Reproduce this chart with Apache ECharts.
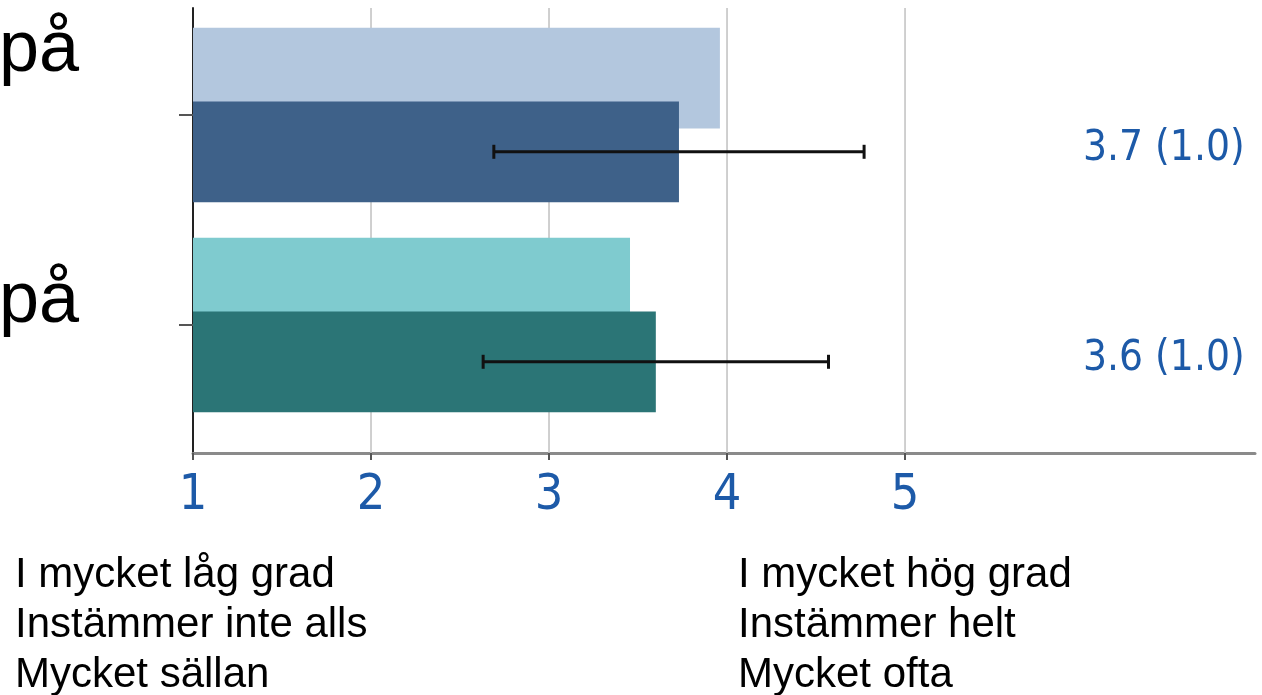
<!DOCTYPE html>
<html>
<head>
<meta charset="utf-8">
<script src="https://cdn.jsdelivr.net/npm/echarts@6/dist/echarts.min.js"></script>
<style>
html,body{margin:0;padding:0;background:#fff;}
#chart{width:1262px;height:695px;}
</style>
</head>
<body>
<div id="chart"></div>
<script>
// ---- data ----
const categories = ['på', 'på'];
const referenceValues = [3.96, 3.455];     // light (comparison) bars
const meanValues = [3.73, 3.6];            // dark bars
const sdValues = [1.04, 0.97];             // error bar half width
const lightColors = ['#b3c7de', '#7fcbcf'];
const darkColors = ['#3e6189', '#2b7576'];
const tickValues = [1, 2, 3, 4, 5];
const scaleLowText = ['I mycket låg grad', 'Instämmer inte alls', 'Mycket sällan'];
const scaleHighText = ['I mycket hög grad', 'Instämmer helt', 'Mycket ofta'];
const labelPosition = 6;   // x value where the "mean (sd)" text starts

const X_MIN = 1, X_MAX = 6.966;
const BAR_W = 0.48, BAR_GAP = -0.27;
const NARROW = '"Liberation Sans Narrow", "DejaVu Sans Condensed", sans-serif';
const SANS = '"Liberation Sans", Arial, sans-serif';

const chart = echarts.init(document.getElementById('chart'));

function darkCenter(api, idx) {
  const c = api.coord([X_MIN, idx]);
  const band = api.size([0, 1])[1];
  const bw = band * BAR_W, gap = bw * BAR_GAP;
  const total = 2 * bw + gap;
  return c[1] - total / 2 + bw + gap + bw / 2;
}

const option = {
  animation: false,
  backgroundColor: '#ffffff',
  grid: [
    { left: 193, right: 7, top: 10, height: 420 },
    { left: 193, right: 7, top: 8, height: 445 }
  ],
  xAxis: [
    { gridIndex: 0, type: 'value', min: X_MIN, max: X_MAX, show: false },
    {
      gridIndex: 1, type: 'value', min: X_MIN, max: X_MAX, interval: 1,
      axisLine: { show: true, lineStyle: { color: '#8a8a8a', width: 3 } },
      axisTick: { show: true, customValues: tickValues, length: 7, lineStyle: { color: '#555', width: 2 } },
      axisLabel: {
        show: true, customValues: tickValues, margin: 18,
        fontFamily: NARROW, fontSize: 50, color: '#1d5aa8'
      },
      splitLine: { show: false }
    }
  ],
  yAxis: [
    {
      gridIndex: 0, type: 'category', inverse: true, data: categories,
      axisLine: { show: false },
      axisTick: { show: true, alignWithLabel: true, length: 14, lineStyle: { color: '#555', width: 2 } },
      axisLabel: { show: false }
    },
    {
      gridIndex: 1, type: 'value', min: 0, max: 1,
      axisLine: { show: true, lineStyle: { color: '#222', width: 2 } },
      axisTick: { show: false }, axisLabel: { show: false }, splitLine: { show: false }
    }
  ],
  series: [
    {
      type: 'custom', xAxisIndex: 1, yAxisIndex: 1, z: 1, silent: true,
      data: tickValues.slice(1),
      renderItem: function (params, api) {
        const v = api.value(0);
        const p0 = api.coord([v, 0]);
        const p1 = api.coord([v, 1]);
        return { type: 'line', shape: { x1: p0[0], y1: p0[1], x2: p1[0], y2: p1[1] },
                 style: { stroke: '#c4c4c4', lineWidth: 1.6 } };
      }
    },
    {
      type: 'bar', xAxisIndex: 0, yAxisIndex: 0, z: 2,
      barWidth: (BAR_W * 100) + '%', barGap: (BAR_GAP * 100) + '%',
      data: referenceValues.map((v, i) => ({ value: v, itemStyle: { color: lightColors[i] } }))
    },
    {
      type: 'bar', xAxisIndex: 0, yAxisIndex: 0, z: 2,
      barWidth: (BAR_W * 100) + '%', barGap: (BAR_GAP * 100) + '%',
      data: meanValues.map((v, i) => ({ value: v, itemStyle: { color: darkColors[i] } }))
    },
    {
      type: 'custom', xAxisIndex: 0, yAxisIndex: 0, z: 5, silent: true,
      data: meanValues.map((m, i) => [m, sdValues[i], i]),
      renderItem: function (params, api) {
        const m = api.value(0), sd = api.value(1), idx = api.value(2);
        const y = darkCenter(api, idx);
        const xl = api.coord([m - sd, idx])[0];
        const xr = api.coord([m + sd, idx])[0];
        const xt = api.coord([labelPosition, idx])[0];
        const cap = 7;
        const st = { stroke: '#111', lineWidth: 3 };
        return {
          type: 'group',
          children: [
            { type: 'line', shape: { x1: xl, y1: y, x2: xr, y2: y }, style: st },
            { type: 'line', shape: { x1: xl, y1: y - cap, x2: xl, y2: y + cap }, style: st },
            { type: 'line', shape: { x1: xr, y1: y - cap, x2: xr, y2: y + cap }, style: st },
            { type: 'text', x: xt, y: y - 3,
              style: { text: m.toFixed(1) + ' (' + sd.toFixed(1) + ')', x: 0, y: 0,
                       fill: '#1d5aa8', fontSize: 42, fontFamily: NARROW,
                       align: 'left', verticalAlign: 'middle' } }
          ]
        };
      }
    }
  ],
  graphic: [
    { type: 'text', right: 1262 - 79, top: 15, style: { text: categories[0], fontSize: 72, fontFamily: SANS, fill: '#000' } },
    { type: 'text', right: 1262 - 79, top: 266, style: { text: categories[1], fontSize: 72, fontFamily: SANS, fill: '#000' } }
  ].concat(
    scaleLowText.map((t, i) => ({ type: 'text', left: 15, top: 554 + i * 50,
      style: { text: t, fontSize: 42, fontFamily: SANS, fill: '#000' } })),
    scaleHighText.map((t, i) => ({ type: 'text', left: 738, top: 554 + i * 50,
      style: { text: t, fontSize: 42, fontFamily: SANS, fill: '#000' } }))
  )
};
chart.setOption(option);
</script>
</body>
</html>
